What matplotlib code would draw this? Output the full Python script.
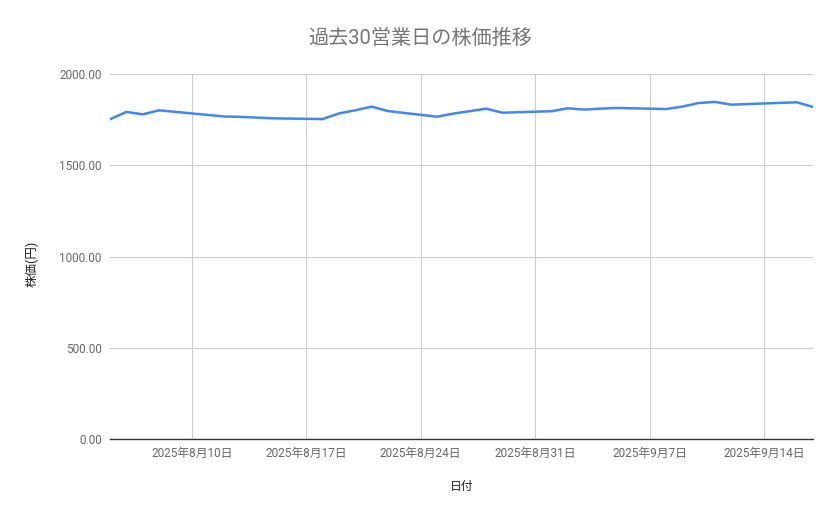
import numpy as np
import pandas as pd
import matplotlib
matplotlib.use("Agg")
import matplotlib.pyplot as plt
import matplotlib.dates as mdates
from matplotlib.ticker import FormatStrFormatter

plt.rcParams['font.family'] = ['Roboto', 'Noto Sans CJK JP', 'DejaVu Sans']

# 30 business days (Japan holidays 8/11 and 9/15 skipped)
dates = pd.to_datetime([
    "2025-08-05", "2025-08-06", "2025-08-07", "2025-08-08",
    "2025-08-12", "2025-08-13", "2025-08-14", "2025-08-15",
    "2025-08-18", "2025-08-19", "2025-08-20", "2025-08-21", "2025-08-22",
    "2025-08-25", "2025-08-26", "2025-08-27", "2025-08-28", "2025-08-29",
    "2025-09-01", "2025-09-02", "2025-09-03", "2025-09-04", "2025-09-05",
    "2025-09-08", "2025-09-09", "2025-09-10", "2025-09-11", "2025-09-12",
    "2025-09-16", "2025-09-17",
])
prices = [
    1752, 1792, 1779, 1801,
    1767, 1765, 1761, 1757,
    1753, 1784, 1801, 1821, 1797,
    1766, 1783, 1796, 1810, 1788,
    1796, 1812, 1805, 1810, 1814,
    1808, 1821, 1841, 1847, 1832,
    1845, 1819,
]

title = "過去30営業日の株価推移"
xlabel = "日付"
ylabel = "株価(円)"
yticks = [0, 500, 1000, 1500, 2000]

fig = plt.figure(figsize=(8.39, 5.19), dpi=100)
ax = fig.add_axes([110 / 839, 80 / 519, 703 / 839, 365 / 519])

ax.plot(dates, prices, color="#4285F4", linewidth=1.8)

ax.set_xlim(pd.Timestamp("2025-08-05"), pd.Timestamp("2025-09-17"))
ax.set_ylim(0, 2000)
ax.set_yticks(yticks)
ax.yaxis.set_major_formatter(FormatStrFormatter("%.2f"))

ax.xaxis.set_major_locator(mdates.WeekdayLocator(byweekday=mdates.SU))
ax.xaxis.set_major_formatter(
    plt.FuncFormatter(lambda v, p: "{0.year}年{0.month}月{0.day}日".format(mdates.num2date(v))))

ax.grid(True, color="#cccccc", linewidth=0.8)
ax.set_axisbelow(True)
for s in ["top", "right", "left"]:
    ax.spines[s].set_visible(False)
ax.spines["bottom"].set_color("#333333")
ax.spines["bottom"].set_linewidth(1.0)
ax.tick_params(length=0, labelsize=8.5, labelcolor="#666666")
ax.tick_params(axis="x", pad=6)
ax.tick_params(axis="y", pad=6)

ax.set_xlabel(xlabel, fontsize=8.5, color="#222222", labelpad=14)
ax.set_ylabel(ylabel, fontsize=9, color="#222222")
ax.yaxis.set_label_coords(-0.101, 0.479)
fig.suptitle(title, x=420 / 839, y=1 - 38 / 519, va="center", fontsize=14.5, color="#757575")

fig.savefig("out.png", dpi=100)
